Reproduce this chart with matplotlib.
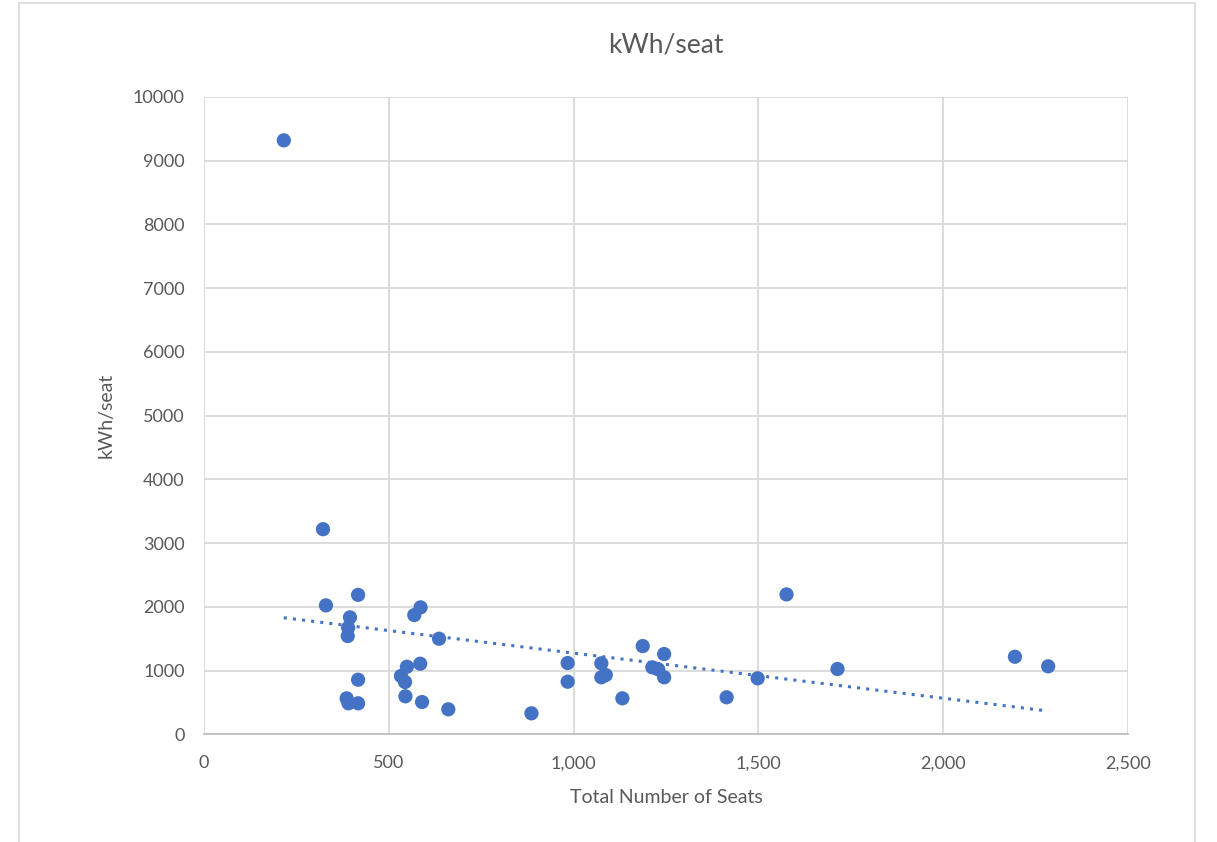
import numpy as np
import matplotlib.pyplot as plt
from matplotlib.ticker import FuncFormatter, MultipleLocator
from matplotlib.patches import Rectangle

# Data
seats = [216, 322, 417, 330, 395, 390, 389, 586, 569, 636,
         585, 549, 533, 544, 417, 386, 391, 417, 545, 590,
         661, 886, 984, 984, 1075, 1075, 1087, 1132, 1187, 1245,
         1213, 1229, 1245, 1414, 1498, 1576, 1714, 2194, 2284]
kwh_per_seat = [9320, 3220, 2190, 2025, 1837, 1674, 1544, 1994, 1873, 1502,
                1110, 1063, 917, 823, 859, 567, 489, 489, 599, 509,
                395, 332, 1121, 828, 1116, 897, 933, 567, 1387, 1262,
                1053, 1022, 897, 583, 881, 2197, 1027, 1219, 1069]

blue = '#4472C4'
grey_text = '#595959'

plt.rcParams['font.family'] = ['Lato', 'DejaVu Sans']

fig = plt.figure(figsize=(12.17, 8.42), dpi=100)
ax = fig.add_axes([0.1676, 0.1277, 0.7593, 0.7571])

# chart border
fig.patches.append(Rectangle((0.016, -0.01), 0.966, 1.006, transform=fig.transFigure,
                             fill=False, edgecolor='#D9D9D9', linewidth=1.2))

ax.scatter(seats, kwh_per_seat, s=105, color=blue, zorder=3, edgecolors='none')

# linear trendline
coef = np.polyfit(seats, kwh_per_seat, 1)
xs = np.array([min(seats), max(seats)])
ax.plot(xs, np.polyval(coef, xs), linestyle=(0, (1, 2)), color=blue, linewidth=2.2, zorder=2)

ax.set_xlim(0, 2500)
ax.set_ylim(0, 10000)
ax.xaxis.set_major_locator(MultipleLocator(500))
ax.yaxis.set_major_locator(MultipleLocator(1000))
ax.xaxis.set_major_formatter(FuncFormatter(lambda v, p: f'{int(v):,}'))
ax.grid(True, color='#D9D9D9', linewidth=1.3, zorder=0)
ax.set_axisbelow(True)

for s in ['top', 'right', 'left']:
    ax.spines[s].set_visible(False)
ax.spines['bottom'].set_color('#BFBFBF')
ax.spines['bottom'].set_linewidth(1.3)
ax.tick_params(length=0, labelsize=13, colors=grey_text)
ax.tick_params(axis='x', pad=15)
ax.tick_params(axis='y', pad=14)

ax.set_title('kWh/seat', fontsize=19, color=grey_text, pad=32)
ax.set_xlabel('Total Number of Seats', fontsize=14, color=grey_text, labelpad=13)
ax.set_ylabel('kWh/seat', fontsize=14, color=grey_text, labelpad=13)

fig.savefig('out.png', dpi=100)
